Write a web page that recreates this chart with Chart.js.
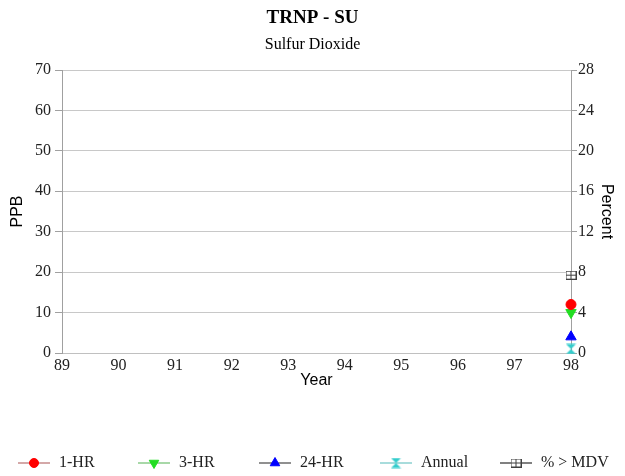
<!DOCTYPE html>
<html>
<head>
<meta charset="utf-8">
<script src="https://cdn.jsdelivr.net/npm/chart.js@4"></script>
<style>
  html, body { margin: 0; padding: 0; background: #fff; }
  #wrap { width: 625px; height: 476px; }
</style>
</head>
<body>
<div id="wrap"><canvas id="chart" width="625" height="476"></canvas></div>
<script>
const years = ['89', '90', '91', '92', '93', '94', '95', '96', '97', '98'];
const oneHr = [null, null, null, null, null, null, null, null, null, 12];
const threeHr = [null, null, null, null, null, null, null, null, null, 10];
const twentyFourHr = [null, null, null, null, null, null, null, null, null, 4];
const annual = [null, null, null, null, null, null, null, null, null, 1];
const pctOverMdv = [null, null, null, null, null, null, null, null, null, 7.7];
const ppbTicks = [0, 10, 20, 30, 40, 50, 60, 70];
const pctTicks = [0, 4, 8, 12, 16, 20, 24, 28];

const serif = "'Liberation Serif', 'DejaVu Serif', serif";
const sans = "'Liberation Sans', Arial, sans-serif";

function makeHourglass() {
  const c = document.createElement('canvas');
  c.width = 11; c.height = 11;
  const g = c.getContext('2d');
  g.fillStyle = '#33cccc';
  g.beginPath();
  g.moveTo(0.5, 0.5); g.lineTo(10.5, 0.5); g.lineTo(5.5, 5.5); g.closePath();
  g.moveTo(0.5, 10.5); g.lineTo(10.5, 10.5); g.lineTo(5.5, 5.5); g.closePath();
  g.fill();
  return c;
}

function makeBoxCross() {
  const c = document.createElement('canvas');
  c.width = 11; c.height = 9;
  const g = c.getContext('2d');
  g.fillStyle = '#fff';
  g.fillRect(0, 0, 11, 9);
  g.strokeStyle = '#404040';
  g.lineWidth = 1;
  g.strokeRect(0.5, 0.5, 10, 8);
  g.beginPath();
  g.moveTo(5.5, 0.5); g.lineTo(5.5, 8.5);
  g.moveTo(0.5, 4.5); g.lineTo(10.5, 4.5);
  g.stroke();
  return c;
}

const hourglass = makeHourglass();
const boxCross = makeBoxCross();

function series(label, data, line, fill, style, radius, rotation, axis) {
  return {
    label, data, yAxisID: axis || 'y',
    borderColor: line, backgroundColor: fill,
    pointStyle: style, pointRadius: radius, pointRotation: rotation || 0,
    pointBorderColor: fill, pointBackgroundColor: fill, pointBorderWidth: 1,
    showLine: false, clip: false
  };
}

// legend drawn at fixed slots like the original
const legendSlots = [18, 138, 259, 380, 500];
const bottomLegend = {
  id: 'bottomLegend',
  afterDraw(chart) {
    const ctx = chart.ctx;
    const y = 463;
    ctx.save();
    chart.data.datasets.forEach((ds, i) => {
      const x0 = legendSlots[i];
      ctx.strokeStyle = ds.borderColor;
      ctx.lineWidth = 2;
      ctx.beginPath();
      ctx.moveTo(x0, y); ctx.lineTo(x0 + 32, y);
      ctx.stroke();
      ctx.fillStyle = ds.pointBackgroundColor;
      ctx.strokeStyle = ds.pointBorderColor;
      ctx.lineWidth = 1;
      Chart.helpers.drawPoint(ctx, {
        pointStyle: ds.pointStyle, radius: ds.pointRadius - 0.5,
        rotation: ds.pointRotation, borderWidth: 1
      }, x0 + 16, y);
      ctx.fillStyle = '#222';
      ctx.font = '16px ' + serif;
      ctx.textBaseline = 'middle';
      ctx.textAlign = 'left';
      ctx.fillText(ds.label, x0 + 41, y);
    });
    ctx.restore();
  }
};

new Chart(document.getElementById('chart'), {
  type: 'line',
  data: {
    labels: years,
    datasets: [
      series('1-HR', oneHr, '#d4a8a8', '#ff0000', 'circle', 5),
      series('3-HR', threeHr, '#a8d8a8', '#22dd22', 'triangle', 6, 180),
      series('24-HR', twentyFourHr, '#909090', '#0000ff', 'triangle', 6),
      series('Annual', annual, '#a8dcdc', '#33cccc', hourglass, 5),
      series('% > MDV', pctOverMdv, '#808080', '#404040', boxCross, 5, 0, 'y2')
    ]
  },
  options: {
    animation: false,
    responsive: false,
    layout: { padding: { left: 0, right: 0, top: 0, bottom: 83 } },
    plugins: {
      legend: { display: false },
      tooltip: { enabled: false },
      title: {
        display: true, text: 'TRNP - SU', color: '#000',
        font: { family: serif, size: 19, weight: 'bold' },
        padding: { top: 7, bottom: 3 }
      },
      subtitle: {
        display: true, text: 'Sulfur Dioxide', color: '#000',
        font: { family: serif, size: 16 },
        padding: { top: 2, bottom: 16 }
      }
    },
    scales: {
      x: {
        offset: false,
        grid: { display: false, drawTicks: false },
        border: { color: '#c0c0c0' },
        ticks: { color: '#222', font: { family: serif, size: 16 }, padding: 3, maxRotation: 0, autoSkip: false },
        title: { display: true, text: 'Year', color: '#000', font: { family: sans, size: 16 }, padding: { top: 0, bottom: 3 } },
        afterFit(s) { s.height = 40; }
      },
      y: {
        position: 'left', min: 0, max: 70,
        afterBuildTicks(s) { s.ticks = ppbTicks.map(v => ({ value: v })); },
        grid: { color: '#c8c8c8', tickLength: 7, tickColor: '#a0a0a0' },
        border: { color: '#a0a0a0' },
        ticks: { color: '#222', font: { family: serif, size: 16 }, padding: 4 },
        title: { display: true, text: 'PPB', color: '#000', font: { family: sans, size: 16 }, padding: { top: 8, bottom: 0 } },
        afterFit(s) { s.width = 62; }
      },
      y2: {
        position: 'right', min: 0, max: 28,
        afterBuildTicks(s) { s.ticks = pctTicks.map(v => ({ value: v })); },
        grid: { drawOnChartArea: false, tickLength: 6, tickColor: '#a0a0a0' },
        border: { color: '#a0a0a0' },
        ticks: { color: '#222', font: { family: serif, size: 16 }, padding: 1 },
        title: { display: true, text: 'Percent', color: '#000', font: { family: sans, size: 16 }, padding: { top: 9, bottom: 0 } },
        afterFit(s) { s.width = 54; }
      }
    }
  },
  plugins: [bottomLegend]
});
</script>
</body>
</html>
